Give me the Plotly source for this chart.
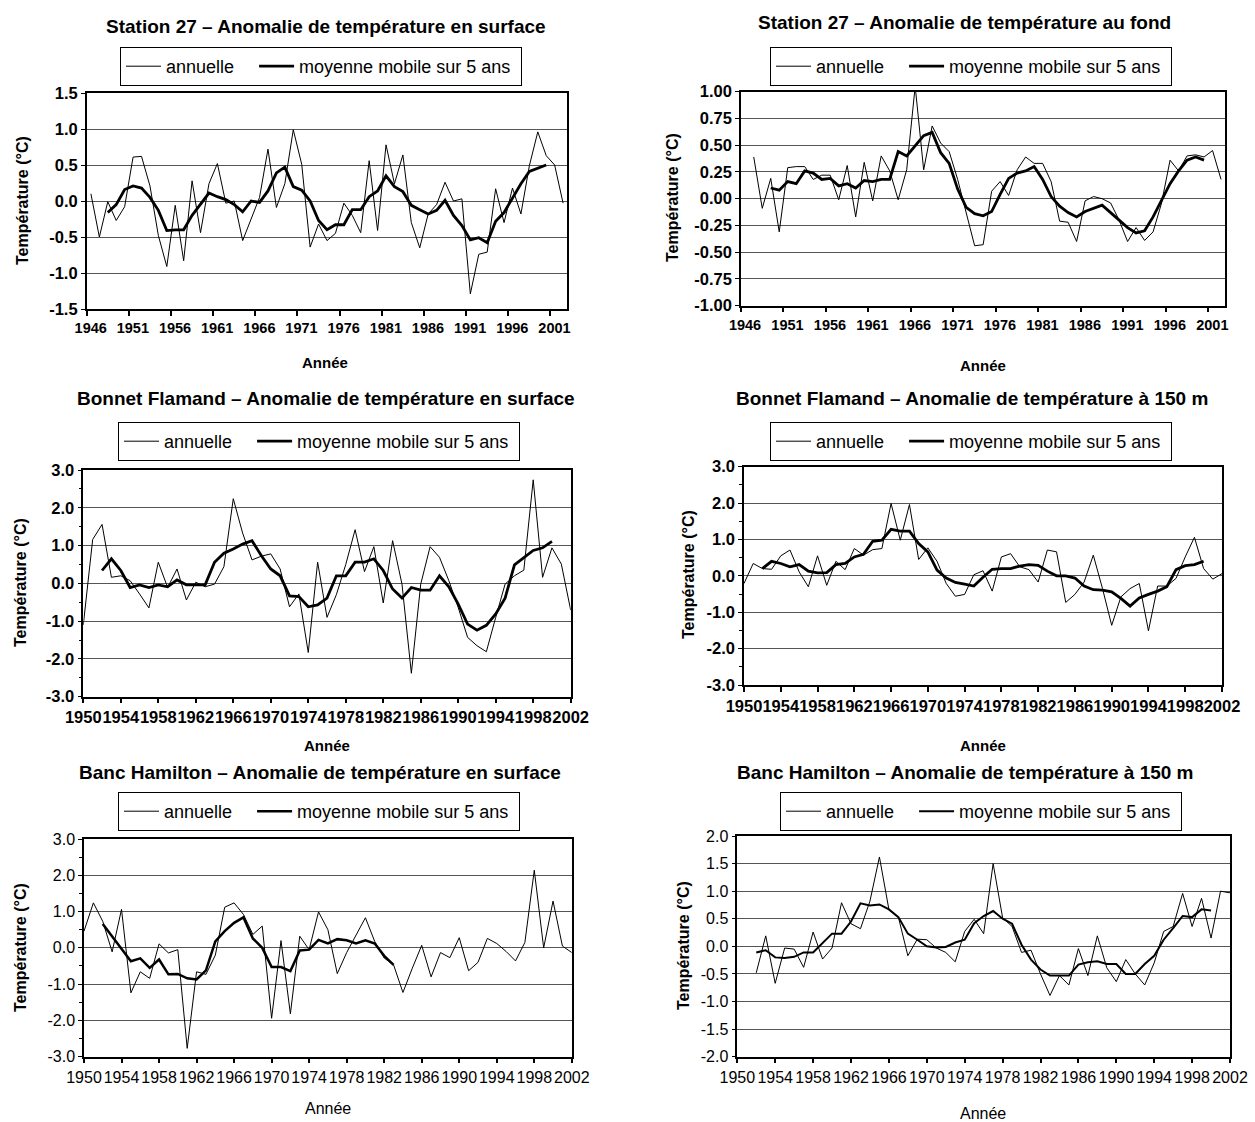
import plotly.graph_objects as go

W, H = 1255, 1122

# ------------------------------------------------------------------ data
# Station 27 - surface
p1_years = list(range(1946, 2003))
p1_annual = [0.10, -0.50, -0.01, -0.27, -0.08, 0.61, 0.62, 0.21, -0.48, -0.91,
             -0.06, -0.83, 0.28, -0.44, 0.24, 0.52, -0.03, 0.00, -0.55, -0.25,
             0.05, 0.72, -0.09, 0.24, 0.99, 0.51, -0.64, -0.32, -0.55, -0.45,
             -0.03, -0.20, -0.44, 0.56, -0.41, 0.78, 0.24, 0.64, -0.30, -0.65,
             -0.18, -0.05, 0.26, 0.00, 0.03, -1.29, -0.74, -0.71, 0.17, -0.30,
             0.18, -0.18, 0.49, 0.96, 0.63, 0.50, -0.03]
p1_ma_years = list(range(1948, 2001))
p1_ma = [-0.16, -0.05, 0.16, 0.21, 0.18, 0.05, -0.13, -0.41, -0.40, -0.40,
         -0.20, -0.04, 0.11, 0.06, 0.02, -0.05, -0.15, 0.00, -0.02, 0.14,
         0.39, 0.47, 0.20, 0.15, 0.00, -0.27, -0.40, -0.33, -0.33, -0.12,
         -0.12, 0.06, 0.14, 0.35, 0.20, 0.13, -0.06, -0.12, -0.18, -0.13,
         0.01, -0.20, -0.34, -0.54, -0.51, -0.58, -0.28, -0.16, 0.05, 0.24,
         0.41, 0.46, 0.50]

# Station 27 - bottom
p2_years = list(range(1947, 2003))
p2_annual = [0.39, -0.09, 0.19, -0.31, 0.29, 0.30, 0.30, 0.18, 0.22, 0.22,
             -0.01, 0.31, -0.17, 0.34, -0.02, 0.40, 0.26, -0.01, 0.27, 1.05,
             0.27, 0.68, 0.52, 0.44, 0.18, -0.12, -0.44, -0.43, 0.07, 0.16,
             0.03, 0.27, 0.39, 0.33, 0.33, 0.16, -0.21, -0.22, -0.40, -0.02,
             0.02, 0.00, -0.04, -0.20, -0.40, -0.27, -0.39, -0.31, -0.04, 0.36,
             0.26, 0.40, 0.41, 0.39, 0.45, 0.18]
p2_ma_years = list(range(1949, 2001))
p2_ma = [0.10, 0.08, 0.16, 0.14, 0.26, 0.24, 0.18, 0.19, 0.12, 0.14,
         0.10, 0.17, 0.16, 0.18, 0.18, 0.44, 0.40, 0.49, 0.59, 0.62,
         0.43, 0.33, 0.09, -0.08, -0.14, -0.16, -0.12, 0.04, 0.19, 0.24,
         0.26, 0.30, 0.18, 0.02, -0.07, -0.13, -0.17, -0.12, -0.09, -0.06,
         -0.13, -0.20, -0.27, -0.32, -0.30, -0.17, -0.02, 0.14, 0.26, 0.36,
         0.39, 0.36]

# Bonnet Flamand - surface
p3_years = list(range(1950, 2003))
p3_annual = [-1.10, 1.16, 1.56, 0.16, 0.20, 0.07, -0.28, -0.65, 0.56, -0.11,
             0.38, -0.44, 0.03, -0.09, -0.02, 0.44, 2.24, 1.33, 0.62, 0.72,
             0.78, 0.38, -0.62, -0.28, -1.83, 0.56, -0.90, -0.30, 0.50, 1.42,
             0.31, 0.97, -0.52, 1.13, -0.02, -2.38, -0.02, 0.97, 0.69, 0.07,
             -0.64, -1.43, -1.65, -1.81, -0.90, -0.02, 0.20, 0.35, 2.74, 0.16,
             0.94, 0.51, -0.71]
p3_ma_years = list(range(1952, 2001))
p3_ma = [0.34, 0.65, 0.34, -0.11, -0.04, -0.11, -0.04, -0.09, 0.09, -0.04,
         -0.04, -0.04, 0.56, 0.80, 0.91, 1.04, 1.13, 0.73, 0.38, 0.20,
         -0.33, -0.35, -0.62, -0.57, -0.39, 0.20, 0.20, 0.56, 0.56, 0.65,
         0.34, -0.15, -0.39, -0.11, -0.18, -0.18, 0.20, -0.09, -0.55, -1.08,
         -1.24, -1.11, -0.81, -0.39, 0.49, 0.67, 0.87, 0.94, 1.11]

# Bonnet Flamand - 150 m
p4_years = list(range(1950, 2003))
p4_annual = [-0.21, 0.34, 0.20, 0.18, 0.55, 0.71, 0.11, -0.30, 0.55, -0.26,
             0.40, 0.17, 0.75, 0.57, 0.72, 0.75, 1.99, 0.98, 1.96, 0.45,
             0.77, 0.40, -0.21, -0.56, -0.51, 0.03, 0.14, -0.42, 0.52, 0.61,
             0.25, 0.17, -0.17, 0.71, 0.66, -0.73, -0.51, -0.17, 0.57, -0.35,
             -1.36, -0.58, -0.35, -0.21, -1.51, -0.28, -0.28, -0.07, 0.52, 1.06,
             0.20, -0.09, 0.06]
p4_ma_years = list(range(1952, 2001))
p4_ma = [0.20, 0.40, 0.34, 0.25, 0.31, 0.13, 0.08, 0.09, 0.31, 0.34,
         0.52, 0.59, 0.95, 0.98, 1.28, 1.23, 1.23, 0.89, 0.66, 0.16,
         -0.06, -0.18, -0.23, -0.28, -0.04, 0.18, 0.20, 0.20, 0.27, 0.31,
         0.29, 0.13, 0.00, 0.00, -0.06, -0.28, -0.38, -0.39, -0.44, -0.62,
         -0.83, -0.61, -0.51, -0.42, -0.30, 0.17, 0.28, 0.31, 0.40]

# Banc Hamilton - surface
p5_years = list(range(1950, 2003))
p5_annual = [0.46, 1.24, 0.73, -0.11, 1.06, -1.24, -0.66, -0.84, 0.11, -0.14,
             -0.05, -2.77, -0.66, -0.73, -0.20, 1.12, 1.24, 0.92, 0.37, 0.60,
             -1.94, 0.20, -1.82, 0.32, -0.05, 0.99, 0.50, -0.71, -0.13, 0.37,
             0.83, 0.17, -0.28, -0.47, -1.23, -0.56, 0.07, -0.80, -0.13, -0.27,
             0.28, -0.63, -0.40, 0.26, 0.12, -0.10, -0.36, 0.15, 2.14, 0.00,
             1.29, 0.05, -0.13]
p5_ma_years = list(range(1952, 1984))
p5_ma = [0.66, 0.32, -0.05, -0.37, -0.29, -0.55, -0.32, -0.73, -0.72, -0.84,
         -0.87, -0.62, 0.18, 0.46, 0.69, 0.84, 0.26, 0.00, -0.53, -0.53,
         -0.64, -0.07, -0.05, 0.22, 0.12, 0.24, 0.21, 0.12, 0.21, 0.12,
         -0.22, -0.47]

# Banc Hamilton - 150 m
p6_years = list(range(1952, 2003))
p6_annual = [-0.48, 0.19, -0.67, -0.03, -0.05, -0.38, 0.26, -0.23, -0.03, 0.79,
             0.41, 0.32, 0.82, 1.62, 0.67, 0.53, -0.17, 0.13, 0.12, -0.03,
             -0.11, -0.28, 0.27, 0.49, 0.23, 1.50, 0.52, 0.36, -0.11, -0.07,
             -0.50, -0.89, -0.53, -0.70, -0.04, -0.53, 0.19, -0.39, -0.64, -0.24,
             -0.50, -0.70, -0.30, 0.27, 0.36, 0.96, 0.36, 0.87, 0.15, 1.00,
             0.97]
p6_ma_years = list(range(1952, 2001))
p6_ma = [-0.11, -0.07, -0.20, -0.21, -0.19, -0.11, -0.11, 0.06, 0.23, 0.23,
         0.45, 0.78, 0.74, 0.76, 0.67, 0.53, 0.23, 0.12, 0.00, -0.02,
         -0.01, 0.07, 0.12, 0.42, 0.55, 0.64, 0.50, 0.41, 0.03, -0.24,
         -0.42, -0.53, -0.53, -0.53, -0.33, -0.29, -0.27, -0.32, -0.32, -0.50,
         -0.50, -0.32, -0.17, 0.12, 0.33, 0.55, 0.53, 0.67, 0.65]

# tick labels
x_labels_5 = ["1946", "1951", "1956", "1961", "1966", "1971", "1976",
              "1981", "1986", "1991", "1996", "2001"]
y_labels_p1 = ["-1.5", "-1.0", "-0.5", "0.0", "0.5", "1.0", "1.5"]
y_vals_p1 = [-1.5, -1.0, -0.5, 0.0, 0.5, 1.0, 1.5]
y_labels_p2 = ["-1.00", "-0.75", "-0.50", "-0.25", "0.00", "0.25", "0.50", "0.75", "1.00"]
y_vals_p2 = [-1.0, -0.75, -0.5, -0.25, 0.0, 0.25, 0.5, 0.75, 1.0]
y_labels_3 = ["-3.0", "-2.0", "-1.0", "0.0", "1.0", "2.0", "3.0"]
y_vals_3 = [-3.0, -2.0, -1.0, 0.0, 1.0, 2.0, 3.0]
y_labels_p6 = ["-2.0", "-1.5", "-1.0", "-0.5", "0.0", "0.5", "1.0", "1.5", "2.0"]
y_vals_p6 = [-2.0, -1.5, -1.0, -0.5, 0.0, 0.5, 1.0, 1.5, 2.0]

series_names = ["annuelle", "moyenne mobile sur 5 ans"]

# ------------------------------------------------------------------ styling
BOLD = "Liberation Sans, Arial, sans-serif"
REG = "Liberation Sans, Arial, sans-serif"


def fx(p):
    return p / W


def fy(p):
    return 1 - p / H


panels = [
    dict(title="Station 27 – Anomalie de température en surface",
         tx=326, ty=27, dx=(86.7, 567.3), dy=(93, 309),
         yr=(-1.5, 1.5), yv=y_vals_p1, yl=y_labels_p1, cat=True,
         xt=(325, 362), ytt=(22, 201), leg=(120, 47), bold=True, minor=False,
         xs=14.5, ys=16.5,
         ann=(p1_years, p1_annual), ma=(p1_ma_years, p1_ma), maw=2.8),
    dict(title="Station 27 – Anomalie de température au fond",
         tx=964, ty=22, dx=(741, 1225.3), dy=(91.7, 305.7),
         yr=(-1.0, 1.0), yv=y_vals_p2, yl=y_labels_p2, cat=True,
         xt=(983, 365), ytt=(672, 198), leg=(770, 47), bold=True, minor=False,
         xs=14.5, ys=16.5,
         ann=(p2_years, p2_annual), ma=(p2_ma_years, p2_ma), maw=2.8),
    dict(title="Bonnet Flamand – Anomalie de température en surface",
         tx=326, ty=398, dx=(83.3, 570.7), dy=(470, 696.7),
         yr=(-3.0, 3.0), yv=y_vals_3, yl=y_labels_3, cat=False,
         xt=(327, 745), ytt=(20, 583), leg=(118, 422), bold=True, minor=True,
         xs=16.5, ys=16.5,
         ann=(p3_years, p3_annual), ma=(p3_ma_years, p3_ma), maw=2.8),
    dict(title="Bonnet Flamand – Anomalie de température à 150 m",
         tx=972, ty=398, dx=(744, 1222), dy=(466.7, 685),
         yr=(-3.0, 3.0), yv=y_vals_3, yl=y_labels_3, cat=False,
         xt=(983, 745), ytt=(688, 575), leg=(770, 422), bold=True, minor=True,
         xs=16.5, ys=16.5,
         ann=(p4_years, p4_annual), ma=(p4_ma_years, p4_ma), maw=2.8),
    dict(title="Banc Hamilton – Anomalie de température en surface",
         tx=320, ty=772, dx=(84, 571.8), dy=(839, 1056.7),
         yr=(-3.0, 3.0), yv=y_vals_3, yl=y_labels_3, cat=False,
         xt=(328, 1108), ytt=(20, 948), leg=(118, 792), bold=False, minor=True,
         xs=16, ys=16,
         ann=(p5_years, p5_annual), ma=(p5_ma_years, p5_ma), maw=2.5),
    dict(title="Banc Hamilton – Anomalie de température à 150 m",
         tx=965, ty=772, dx=(737.3, 1230), dy=(836, 1056.7),
         yr=(-2.0, 2.0), yv=y_vals_p6, yl=y_labels_p6, cat=False,
         xt=(983, 1113), ytt=(683, 946), leg=(780, 792), bold=False, minor=False,
         xs=16, ys=16,
         ann=(p6_years, p6_annual), ma=(p6_ma_years, p6_ma), maw=2.0),
]

fig = go.Figure()
layout = dict(width=W, height=H,
              margin=dict(l=0, r=0, t=0, b=0, pad=0, autoexpand=False),
              paper_bgcolor="white", plot_bgcolor="white", annotations=[])

for i, p in enumerate(panels, start=1):
    sfx = "" if i == 1 else str(i)
    legname = "legend" + sfx
    xa, ya = "x" + sfx, "y" + sfx
    # trailing no-break spaces widen the gap between the two legend entries
    fig.add_trace(go.Scatter(x=p["ann"][0], y=p["ann"][1], mode="lines",
                             name=series_names[0] + "\u00a0" * 3,
                             line=dict(color="black", width=1),
                             xaxis=xa, yaxis=ya, legend=legname, showlegend=True))
    fig.add_trace(go.Scatter(x=p["ma"][0], y=p["ma"][1], mode="lines",
                             name=series_names[1] + "\u00a0",
                             line=dict(color="black", width=p["maw"]),
                             xaxis=xa, yaxis=ya, legend=legname, showlegend=True))

    weight = "bold" if p["bold"] else "normal"
    xfont = dict(family=BOLD if p["bold"] else REG, size=p["xs"], color="black", weight=weight)
    yfont = dict(family=BOLD if p["bold"] else REG, size=p["ys"], color="black", weight=weight)

    xax = dict(domain=[fx(p["dx"][0]), fx(p["dx"][1])], anchor=ya,
               showline=True, linecolor="black", linewidth=1.5, mirror=True,
               showgrid=False, zeroline=False, ticks="outside", ticklen=5,
               tickcolor="black", tickwidth=1.5, tickangle=0, tickfont=xfont)
    if p["cat"]:
        xax.update(range=[1945.5, 2002.5],
                   tickvals=[1945.5 + 5 * k for k in range(len(x_labels_5))],
                   ticktext=x_labels_5, ticklabelshift=4)
    else:
        xax.update(range=[1950, 2002], tick0=1950, dtick=4, tickmode="linear")

    yax = dict(domain=[fy(p["dy"][1]), fy(p["dy"][0])], anchor=xa,
               range=list(p["yr"]), tickvals=p["yv"], ticktext=p["yl"],
               showline=True, linecolor="black", linewidth=1.5, mirror=True,
               showgrid=True, gridcolor="#555555", gridwidth=1, zeroline=False,
               ticks="outside", ticklen=4, tickcolor="black", tickfont=yfont)
    if p["minor"]:
        yax["minor"] = dict(dtick=0.5, tick0=0, ticks="outside", ticklen=3,
                            tickcolor="black", showgrid=False)
    layout["xaxis" + sfx] = xax
    layout["yaxis" + sfx] = yax

    layout[legname] = dict(orientation="h", x=fx(p["leg"][0]), y=fy(p["leg"][1]),
                           xanchor="left", yanchor="top", bgcolor="white",
                           bordercolor="black", borderwidth=1, itemwidth=35,
                           font=dict(family=REG, size=18, color="black"),
                           traceorder="normal")

    layout["annotations"].append(dict(
        text=p["title"], x=fx(p["tx"]), y=fy(p["ty"]), xref="paper", yref="paper",
        showarrow=False, xanchor="center", yanchor="middle",
        font=dict(family=BOLD, size=19, color="black", weight="bold")))
    layout["annotations"].append(dict(
        text="Température (°C)", x=fx(p["ytt"][0]), y=fy(p["ytt"][1]),
        xref="paper", yref="paper", showarrow=False, textangle=-90,
        xanchor="center", yanchor="middle",
        font=dict(family=BOLD, size=16, color="black", weight="bold")))
    layout["annotations"].append(dict(
        text="Année", x=fx(p["xt"][0]), y=fy(p["xt"][1]),
        xref="paper", yref="paper", showarrow=False,
        xanchor="center", yanchor="middle",
        font=dict(family=BOLD if p["bold"] else REG, size=15 if p["bold"] else 16,
                  color="black", weight=weight)))

fig.update_layout(**layout)
fig.write_html("out.html",
               config={"displayModeBar": False},
               post_script="document.body.style.margin='0';"
                           "document.body.style.overflow='hidden';")
